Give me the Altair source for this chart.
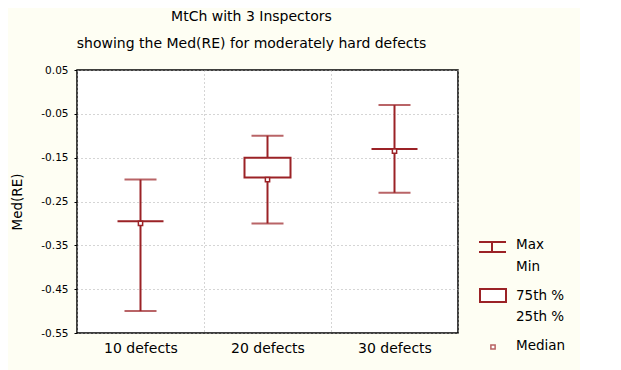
import altair as alt
import pandas as pd

categories = ["10 defects", "20 defects", "30 defects"]
max_vals = [-0.20, -0.10, -0.03]
min_vals = [-0.50, -0.30, -0.23]
q75_vals = [-0.295, -0.15, -0.13]
q25_vals = [-0.295, -0.195, -0.13]
med_vals = [-0.30, -0.20, -0.135]
y_ticks = [0.05, -0.05, -0.15, -0.25, -0.35, -0.45, -0.55]

df = pd.DataFrame({
    "cat": categories, "mx": max_vals, "mn": min_vals,
    "q75": q75_vals, "q25": q25_vals, "med": med_vals,
})

RED = "#9b2226"
FONT = "DejaVu Sans"

xenc = alt.X("cat:N", sort=categories, title=None,
             scale=alt.Scale(paddingInner=0, paddingOuter=0),
             axis=alt.Axis(tickBand="extent", grid=True, gridDash=[1, 3],
                           gridColor="#aaaaaa", domain=False, ticks=False,
                           labelAngle=0, labelFontSize=14, labelFont=FONT,
                           labelColor="black", labelPadding=8))
yscale = alt.Scale(domain=[-0.55, 0.05], nice=False, zero=False)
yaxis = alt.Axis(values=y_ticks,
                 labelExpr="(datum.value < 0 ? '-' : '') + format(abs(datum.value), '.2f')",
                 grid=True, gridDash=[1, 3],
                 gridColor="#aaaaaa", domain=False, tickSize=3, tickColor="black",
                 labelFontSize=10.5, labelFont=FONT, labelColor="black", labelPadding=6,
                 title="Med(RE)", titleFont=FONT, titleFontSize=13.5,
                 titleFontWeight="normal", titleColor="black", titlePadding=16)

base = alt.Chart(df)

whisker = base.mark_rule(color=RED, strokeWidth=2).encode(
    x=xenc, y=alt.Y("mx:Q", scale=yscale, axis=yaxis), y2="mn:Q")
cap_max = base.mark_tick(color=RED, size=32, thickness=2).encode(x=xenc, y="mx:Q")
cap_min = base.mark_tick(color=RED, size=32, thickness=2).encode(x=xenc, y="mn:Q")
box = base.mark_bar(fill="white", stroke=RED, strokeWidth=2, size=46).encode(
    x=xenc, y="q75:Q", y2="q25:Q")
median = base.mark_square(size=18, fill="white", stroke=RED, strokeWidth=1.5,
                          filled=False, opacity=1).encode(x=xenc, y="med:Q")

one = alt.Data(values=[{"k": 1}])
lg = alt.Chart(one)
leg_v = lg.mark_rule(color=RED, strokeWidth=2).encode(
    x=alt.value(415), y=alt.value(172), y2=alt.value(182))
leg_t = lg.mark_rule(color=RED, strokeWidth=2).encode(
    x=alt.value(402), x2=alt.value(429), y=alt.value(172))
leg_b = lg.mark_rule(color=RED, strokeWidth=2).encode(
    x=alt.value(402), x2=alt.value(429), y=alt.value(182))
leg_box = lg.mark_rect(fill="white", stroke=RED, strokeWidth=2).encode(
    x=alt.value(403), x2=alt.value(429), y=alt.value(219), y2=alt.value(232))
leg_med = lg.mark_square(size=18, fill="white", stroke=RED, strokeWidth=1.5,
                         filled=False).encode(x=alt.value(416), y=alt.value(277))

def ltext(txt, y):
    return lg.mark_text(align="left", baseline="middle", font=FONT, fontSize=13.5,
                        color="black").encode(
        x=alt.value(439), y=alt.value(y), text=alt.value(txt))

chart = alt.layer(
    whisker, box, cap_max, cap_min, median,
    leg_v, leg_t, leg_b, leg_box, leg_med,
    ltext("Max", 175), ltext("Min", 197), ltext("75th  %", 226),
    ltext("25th  %", 247), ltext("Median", 276),
).properties(
    width=381, height=263,
    title=alt.TitleParams(
        text=["MtCh with 3 Inspectors",
              "showing the Med(RE) for moderately hard defects"],
        font=FONT, fontSize=14, fontWeight="normal", color="black",
        anchor="middle", dx=-16, lineHeight=27, offset=14),
    padding={"left": 69, "top": 62, "right": 122, "bottom": 37},
    autosize=alt.AutoSizeParams(type="none"),
    background="#fefef3",
).configure_view(
    fill="white", stroke="black", strokeWidth=1.5
)

chart.save("out.html", embed_options={"renderer": "svg", "actions": False})
